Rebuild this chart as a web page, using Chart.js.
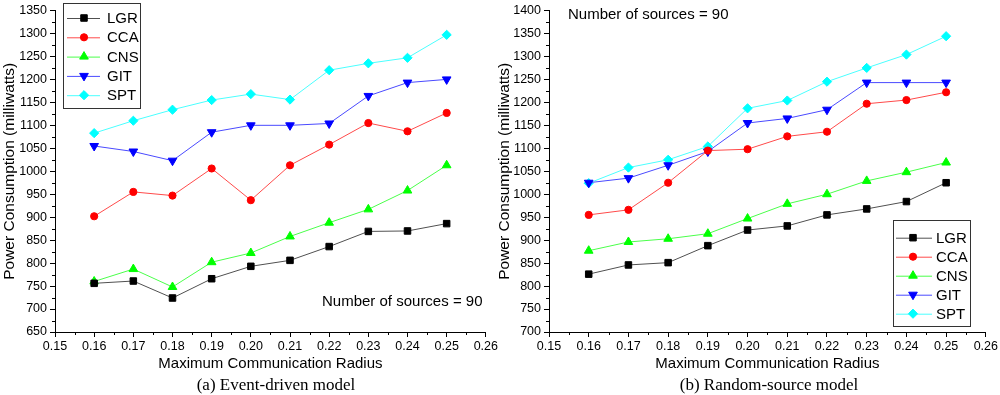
<!DOCTYPE html>
<html>
<head>
<meta charset="utf-8">
<script src="https://cdn.jsdelivr.net/npm/chart.js@4.4.0/dist/chart.umd.min.js"></script>
<style>
body{margin:0;background:#fff;width:1000px;height:395px;position:relative;overflow:hidden}
#c1{position:absolute;left:0;top:0}
#c2{position:absolute;left:495px;top:0}
.cap{position:absolute;top:375px;font:17px "Liberation Serif","Times New Roman",serif;transform:translateX(-50%);white-space:nowrap;color:#000}
</style>
</head>
<body>
<canvas id="c1" width="500" height="395"></canvas>
<canvas id="c2" width="505" height="395"></canvas>
<div class="cap" style="left:276px">(a) Event-driven model</div>
<div class="cap" style="left:769px">(b) Random-source model</div>
<script>
const radius = [0.16, 0.17, 0.18, 0.19, 0.20, 0.21, 0.22, 0.23, 0.24, 0.25];
const series = ['LGR', 'CCA', 'CNS', 'GIT', 'SPT'];

// (a) event-driven
const eventLGR = [756, 761, 724, 766, 793, 806, 836, 869, 870, 886];
const eventCCA = [902, 955, 947, 1006, 937, 1013, 1058, 1105, 1087, 1127];
const eventCNS = [760, 787, 748, 802, 822, 858, 888, 917, 958, 1013];
const eventGIT = [1055, 1043, 1023, 1085, 1100, 1100, 1104, 1164, 1193, 1200];
const eventSPT = [1083, 1110, 1134, 1155, 1168, 1156, 1220, 1235, 1247, 1297];

// (b) random-source
const randomLGR = [826, 846, 851, 888, 922, 931, 955, 968, 984, 1025];
const randomCCA = [955, 966, 1025, 1095, 1098, 1126, 1136, 1197, 1205, 1222];
const randomCNS = [877, 896, 903, 914, 947, 979, 1000, 1029, 1048, 1069];
const randomGIT = [1025, 1035, 1063, 1093, 1155, 1165, 1184, 1243, 1243, 1243];
const randomSPT = [1024, 1058, 1075, 1104, 1187, 1204, 1245, 1275, 1304, 1344];

const styles = [
    {line: '#505050', fill: '#000000', point: 'rect', r: 4.6, rot: 0},
    {line: '#ff4a4a', fill: '#ff0000', point: 'circle', r: 3.6, rot: 0},
    {line: '#4aff4a', fill: '#00ff00', point: 'triangle', r: 5, rot: 0},
    {line: '#4a4aff', fill: '#0000ff', point: 'triangle', r: 5, rot: 180},
    {line: '#4affff', fill: '#00ffff', point: 'rectRot', r: 4.6, rot: 0}
];

Chart.defaults.font.family = "'Liberation Sans', Arial, sans-serif";
Chart.defaults.color = '#000';

// short ticks half way between the labelled ones
const minorTicks = {
    id: 'minorTicks',
    afterDraw(chart) {
        const ctx = chart.ctx;
        const xs = chart.scales.x, ys = chart.scales.y;
        ctx.save();
        ctx.strokeStyle = '#000';
        ctx.lineWidth = 1;
        for (let i = 0; i < 11; i++) {
            const px = Math.round(xs.getPixelForValue(0.155 + i * 0.01)) + 0.5;
            ctx.beginPath(); ctx.moveTo(px, xs.top); ctx.lineTo(px, xs.top + 3); ctx.stroke();
        }
        for (let v = ys.min + 25; v < ys.max; v += 50) {
            const py = Math.round(ys.getPixelForValue(v)) + 0.5;
            ctx.beginPath(); ctx.moveTo(ys.right, py); ctx.lineTo(ys.right - 3, py); ctx.stroke();
        }
        ctx.restore();
    }
};

// boxed legend with line + marker, like the original plots
const boxLegend = {
    id: 'boxLegend',
    afterDraw(chart, args, o) {
        const ctx = chart.ctx;
        ctx.save();
        ctx.strokeStyle = '#333';
        ctx.lineWidth = 1;
        ctx.strokeRect(o.x + 0.5, o.y + 0.5, o.w, o.h);
        ctx.font = "15px 'Liberation Sans', Arial, sans-serif";
        ctx.textBaseline = 'middle';
        chart.data.datasets.forEach((ds, i) => {
            const y = o.y + o.first + i * o.step;
            ctx.strokeStyle = ds.borderColor;
            ctx.beginPath(); ctx.moveTo(o.x + o.l1, y + 0.5); ctx.lineTo(o.x + o.l2, y + 0.5); ctx.stroke();
            ctx.fillStyle = ds.pointBackgroundColor;
            ctx.strokeStyle = ds.pointBorderColor;
            Chart.helpers.drawPoint(ctx, {pointStyle: ds.pointStyle, radius: ds.pointRadius, rotation: ds.pointRotation, borderWidth: 1}, o.x + o.m, y);
            ctx.fillStyle = '#000';
            ctx.fillText(ds.label, o.x + o.t, y + 1);
        });
        ctx.restore();
    }
};

const note = {
    id: 'note',
    afterDraw(chart, args, o) {
        const ctx = chart.ctx;
        ctx.save();
        ctx.font = "15px 'Liberation Sans', Arial, sans-serif";
        ctx.fillStyle = '#000';
        ctx.textBaseline = 'middle';
        ctx.fillText(o.text, o.x, o.y);
        ctx.restore();
    }
};

function makeChart(id, values, o) {
    return new Chart(document.getElementById(id), {
        type: 'line',
        data: {
            datasets: series.map((name, i) => ({
                label: name,
                data: radius.map((r, j) => ({x: r, y: values[i][j]})),
                borderColor: styles[i].line,
                borderWidth: 1,
                tension: 0,
                pointStyle: styles[i].point,
                pointRadius: styles[i].r,
                pointRotation: styles[i].rot,
                pointBackgroundColor: styles[i].fill,
                pointBorderColor: styles[i].fill,
                pointBorderWidth: 1
            }))
        },
        options: {
            responsive: false,
            animation: false,
            layout: {padding: {top: 5, right: o.padRight, bottom: 20, left: 0}},
            plugins: {
                legend: {display: false},
                tooltip: {enabled: false},
                boxLegend: o.legend,
                note: o.note
            },
            scales: {
                x: {
                    type: 'linear',
                    min: 0.15,
                    max: 0.26,
                    afterFit: s => { s.height = 43; },
                    ticks: {stepSize: 0.01, callback: v => v.toFixed(2), font: {size: 12.5}, padding: 2, maxRotation: 0, autoSkip: false},
                    grid: {drawOnChartArea: false, tickLength: 5, color: '#000'},
                    border: {color: '#000'},
                    title: {display: true, text: 'Maximum Communication Radius', font: {size: 15}, padding: {top: 0, bottom: 2}}
                },
                y: {
                    min: o.ymin,
                    max: o.ymax,
                    afterFit: s => { s.width = o.yWidth; },
                    ticks: {stepSize: 50, callback: v => String(v), font: {size: 12.5}, padding: 3},
                    grid: {drawOnChartArea: false, tickLength: 5, color: '#000'},
                    border: {color: '#000'},
                    title: {display: true, text: 'Power Consumption (milliwatts)', font: {size: 15.5}, padding: 0}
                }
            }
        },
        plugins: [minorTicks, boxLegend, note]
    });
}

makeChart('c1', [eventLGR, eventCCA, eventCNS, eventGIT, eventSPT], {
    ymin: 650, ymax: 1350, yWidth: 55, padRight: 5,
    legend: {x: 63, y: 3, w: 77, h: 105, first: 15, step: 19.3, l1: 4, l2: 37, m: 21, t: 44},
    note: {text: 'Number of sources = 90', x: 322, y: 302}
});

makeChart('c2', [randomLGR, randomCCA, randomCNS, randomGIT, randomSPT], {
    ymin: 700, ymax: 1400, yWidth: 54, padRight: 12,
    legend: {x: 398, y: 220, w: 77, h: 106, first: 17.7, step: 19, l1: 3, l2: 39, m: 20, t: 43},
    note: {text: 'Number of sources = 90', x: 73, y: 15}
});
</script>
</body>
</html>
